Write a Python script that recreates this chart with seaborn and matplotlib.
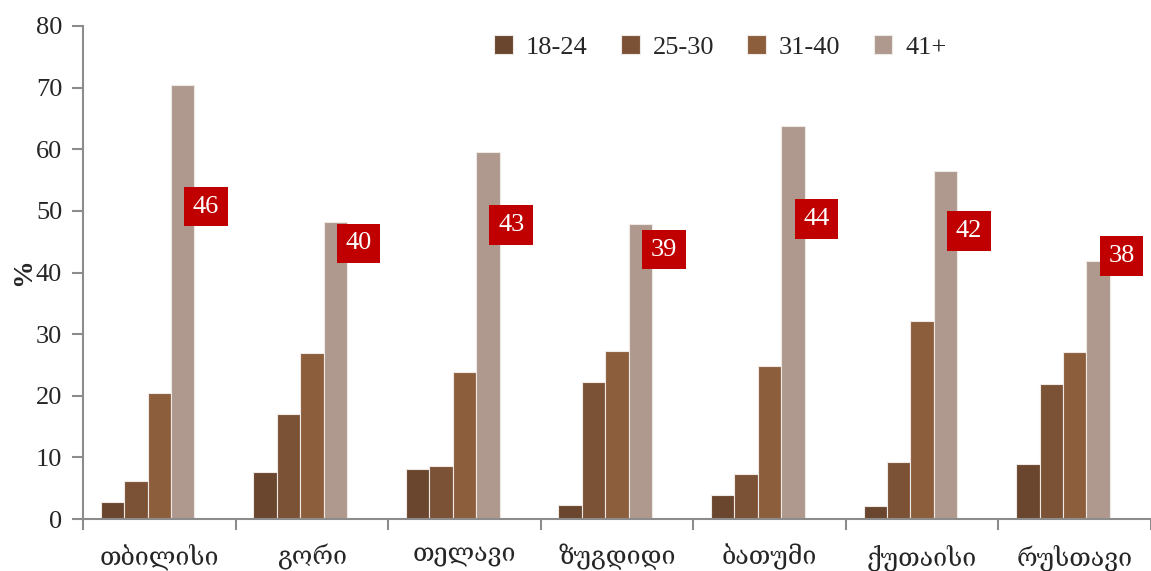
import numpy as np
import pandas as pd
import matplotlib
matplotlib.use("Agg")
import matplotlib.pyplot as plt
import seaborn as sns

# Cities and age groups
cities = ["თბილისი", "გორი", "თელავი", "ზუგდიდი", "ბათუმი", "ქუთაისი", "რუსთავი"]
age_groups = ["18-24", "25-30", "31-40", "41+"]

# Share of each age group per city, %
share_18_24 = [2.7, 7.6, 8.1, 2.2, 3.9, 2.1, 8.9]
share_25_30 = [6.1, 17.0, 8.6, 22.3, 7.3, 9.3, 21.9]
share_31_40 = [20.4, 26.9, 23.8, 27.3, 24.9, 32.1, 27.1]
share_41_plus = [70.5, 48.2, 59.5, 47.9, 63.7, 56.4, 41.8]

# Average age per city (drawn as an unfilled fifth bar carrying the label)
mean_age = [46, 40, 43, 39, 44, 42, 38]
mean_key = "mean"

palette = ["#6A462E", "#7C5237", "#8C5E3C", "#AF998E", "#FFFFFF"]

rows = []
for grp, vals in zip(age_groups + [mean_key],
                     [share_18_24, share_25_30, share_31_40, share_41_plus, mean_age]):
    for c, v in zip(cities, vals):
        rows.append({"city": c, "group": grp, "value": v})
df = pd.DataFrame(rows)

sns.set_style("white")
plt.rcParams["font.family"] = ["Liberation Serif", "DejaVu Serif", "DejaVu Sans"]

fig = plt.figure(figsize=(11.51, 5.71), dpi=100)
ax = fig.add_axes([83 / 1151, 1 - 519 / 571, 1 - 83 / 1151, (519 - 26) / 571])

sns.barplot(data=df, x="city", y="value", hue="group", order=cities,
            hue_order=age_groups + [mean_key], palette=palette, width=0.767,
            edgecolor="#EFE9E5", linewidth=0.8, saturation=1, ax=ax)

# hide the mean-age bars, keep them as label anchors
mean_bars = ax.containers[-1]
for bar in mean_bars:
    bar.set_alpha(0)

for bar, m in zip(mean_bars, mean_age):
    ax.annotate(str(m), xy=(bar.get_x() + bar.get_width() / 2, bar.get_height()),
                xytext=(0, 29), textcoords="offset pixels",
                ha="center", va="center", color="white", fontsize=19,
                bbox=dict(boxstyle="square,pad=0.33", fc="#C00000", ec="none"))

ax.set_ylim(0, 80)
ax.set_xlim(-0.5, len(cities) - 0.5)
ax.set_yticks(np.arange(0, 81, 10))
ax.set_xlabel("")
ax.set_ylabel("%", fontsize=20, fontweight="bold", labelpad=0)

for side in ["top", "right"]:
    ax.spines[side].set_visible(False)
for side in ["left", "bottom"]:
    ax.spines[side].set_color("#8C8C8C")
    ax.spines[side].set_linewidth(1.5)

ax.tick_params(axis="y", which="major", length=8, width=1.5, color="#8C8C8C",
               labelsize=19, pad=7, left=True)
ax.tick_params(axis="x", which="major", length=0, labelsize=18, pad=18)
ax.set_xticks(np.arange(-0.5, len(cities), 1), minor=True)
ax.tick_params(axis="x", which="minor", length=8, width=1.5, color="#8C8C8C",
               bottom=True)

handles, labels = ax.get_legend_handles_labels()
ax.legend(handles[:4], labels[:4], loc="center", bbox_to_anchor=(0.597, 0.957),
          ncol=4, frameon=False, fontsize=19, handlelength=0.7, handleheight=0.7,
          handletextpad=0.5, columnspacing=1.26)

fig.savefig("out.png", dpi=100)
